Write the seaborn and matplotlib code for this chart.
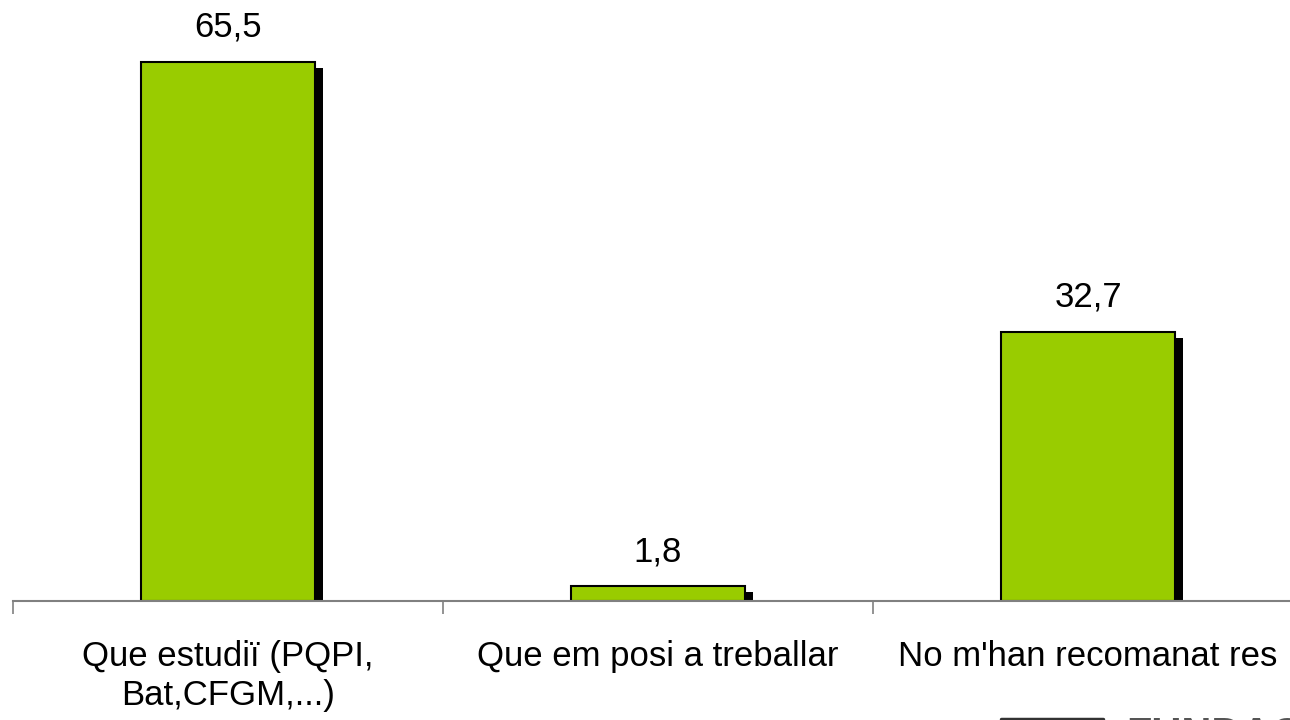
import matplotlib
matplotlib.use("Agg")
import matplotlib.pyplot as plt
import matplotlib.patheffects as pe
import seaborn as sns
import pandas as pd

categories = ["Que estudiï (PQPI,\nBat,CFGM,...)", "Que em posi a treballar", "No m'han recomanat res"]
values = [65.5, 1.8, 32.7]
value_labels = ["65,5", "1,8", "32,7"]

sns.set_style("white")
plt.rcParams['font.family'] = ['Liberation Sans', 'DejaVu Sans']

df = pd.DataFrame({'cat': categories, 'val': values})

fig = plt.figure(figsize=(12.9, 7.2), dpi=100)
ax = fig.add_axes([13 / 1290, 119 / 720, 1290 / 1290, 593 / 720])

sns.barplot(data=df, x='cat', y='val', color='#99CC00', width=0.405,
            edgecolor='black', linewidth=1.5, saturation=1, ax=ax)

# drop shadow like the original office chart
for p in ax.patches:
    p.set_path_effects([pe.SimplePatchShadow(offset=(5.5, -4.5), shadow_rgbFace='black', alpha=1),
                        pe.Normal()])

for p, lab in zip(ax.patches, value_labels):
    ax.annotate(lab, (p.get_x() + p.get_width() / 2, p.get_height()),
                xytext=(0, 13), textcoords='offset points', ha='center', va='bottom',
                fontsize=25, color='black')

ax.set_xlim(-0.5, 2.5)
ax.set_ylim(0, 72)
ax.set_xlabel('')
ax.set_ylabel('')
ax.set_yticks([])

for s in ['top', 'right', 'left']:
    ax.spines[s].set_visible(False)
ax.spines['bottom'].set_color('#808080')
ax.spines['bottom'].set_linewidth(1.5)

ax.set_xticks([0, 1, 2])
ax.set_xticklabels(categories, fontsize=25, linespacing=1.25, color='black')
ax.tick_params(axis='x', which='major', length=0, pad=28)
ax.set_xticks([-0.5, 0.5, 1.5, 2.5], minor=True)
ax.tick_params(axis='x', which='minor', bottom=True, length=9, width=1.2,
               color='#808080', direction='out')

# logo at bottom right, mostly outside the picture
fig.text(0.873, 4 / 720, 'FUNDACIÓ', fontsize=30, fontweight='bold', color='#555555',
         ha='left', va='top')
fig.add_artist(plt.Line2D([0.776, 0.855], [0.002, 0.002], color='#333333', lw=2.5,
                          transform=fig.transFigure))

fig.savefig('out.png', dpi=100)
